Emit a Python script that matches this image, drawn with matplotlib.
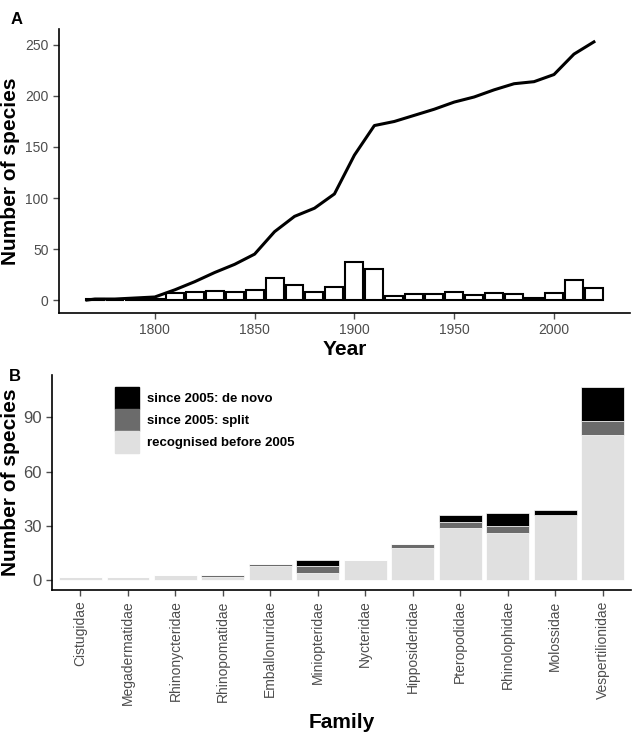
import matplotlib
matplotlib.use("Agg")

import matplotlib.pyplot as plt
from matplotlib.patches import Patch

plt.rcParams['font.family'] = ['Liberation Sans', 'DejaVu Sans']

# Panel A: species described per decade + cumulative total
decades = [1770, 1780, 1790, 1800, 1810, 1820, 1830, 1840, 1850, 1860, 1870, 1880, 1890,
           1900, 1910, 1920, 1930, 1940, 1950, 1960, 1970, 1980, 1990, 2000, 2010, 2020]
described = [1, 0, 1, 1, 7, 8, 9, 8, 10, 22, 15, 8, 13,
             37, 30, 4, 6, 6, 8, 5, 7, 6, 2, 7, 20, 12]
cum_years = [1766, 1770, 1780, 1790, 1800, 1810, 1820, 1830, 1840, 1850, 1860, 1870, 1880, 1890,
             1900, 1910, 1920, 1930, 1940, 1950, 1960, 1970, 1980, 1990, 2000, 2010, 2020]
cum_species = [0, 1, 1, 2, 3, 10, 18, 27, 35, 45, 67, 82, 90, 104,
               142, 171, 175, 181, 187, 194, 199, 206, 212, 214, 221, 241, 253]
yticks_a = [0, 50, 100, 150, 200, 250]
xticks_a = [1800, 1850, 1900, 1950, 2000]

# Panel B: species per family
families = ['Cistugidae', 'Megadermatidae', 'Rhinonycteridae', 'Rhinopomatidae',
            'Emballonuridae', 'Miniopteridae', 'Nycteridae', 'Hipposideridae',
            'Pteropodidae', 'Rhinolophidae', 'Molossidae', 'Vespertilionidae']
before_2005 = [2, 2, 3, 2, 8, 4, 11, 18, 29, 26, 36, 80]
split_2005 = [0, 0, 0, 1, 1, 4, 0, 2, 3, 4, 0, 8]
de_novo_2005 = [0, 0, 0, 0, 0, 3, 0, 0, 4, 7, 3, 19]
yticks_b = [0, 30, 60, 90]

c_light = '#e0e0e0'
c_split = '#6b6b6b'
c_novo = '#000000'
tick_col = '#4d4d4d'
narrow = ['Liberation Sans Narrow', 'Liberation Sans', 'DejaVu Sans']

fig = plt.figure(figsize=(6.33, 7.39), dpi=100)

# ---------- A ----------
ax1 = fig.add_axes([0.0932, 0.5765, 0.9018, 0.3843])
ax1.bar(decades, described, width=9, color='white', edgecolor='black', linewidth=1.5, zorder=2)
ax1.plot(cum_years, cum_species, color='black', linewidth=2.2, zorder=3)
ax1.set_xlim(1752, 2038)
ax1.set_ylim(-12.65, 265.65)
ax1.set_xticks(xticks_a)
ax1.set_yticks(yticks_a)
ax1.set_xlabel('Year', fontsize=15, fontweight='bold', labelpad=2)
ax1.set_ylabel('Number of species', fontsize=15, fontweight='bold', labelpad=4)
ax1.text(-0.085, 1.06, 'A', transform=ax1.transAxes, fontsize=12, fontweight='bold', va='top')

# ---------- B ----------
ax2 = fig.add_axes([0.0821, 0.2016, 0.9149, 0.2910])
x = range(len(families))
bottom2 = [a + b for a, b in zip(before_2005, split_2005)]
ax2.bar(x, before_2005, width=0.9, color=c_light, edgecolor='white', linewidth=0.5)
ax2.bar(x, split_2005, width=0.9, bottom=before_2005, color=c_split, edgecolor='white', linewidth=0.5)
ax2.bar(x, de_novo_2005, width=0.9, bottom=bottom2, color=c_novo, edgecolor='white', linewidth=0.5)
ax2.set_xlim(-0.6, len(families) - 0.4)
ax2.set_ylim(-5.4, 113.4)
ax2.set_yticks(yticks_b)
ax2.set_xticks(list(x))
ax2.set_xticklabels(families, rotation=90, fontsize=10, color=tick_col)
ax2.set_xlabel('Family', fontsize=15, fontweight='bold', family=narrow, labelpad=6)
ax2.set_ylabel('Number of species', fontsize=15, fontweight='bold', labelpad=2)
ax2.text(-0.075, 1.03, 'B', transform=ax2.transAxes, fontsize=12, fontweight='bold', va='top')

handles = [Patch(color=c_novo, label='since 2005: de novo'),
           Patch(color=c_split, label='since 2005: split'),
           Patch(color=c_light, label='recognised before 2005')]
leg = ax2.legend(handles=handles, loc='upper left', bbox_to_anchor=(0.109, 0.944),
                 frameon=False, borderpad=0, borderaxespad=0, labelspacing=0,
                 handlelength=1.8, handleheight=2.2, handletextpad=0.6,
                 prop={'family': narrow, 'weight': 'bold', 'size': 9.5})

for ax in (ax1, ax2):
    ax.spines['top'].set_visible(False)
    ax.spines['right'].set_visible(False)
    ax.spines['left'].set_linewidth(1.2)
    ax.spines['bottom'].set_linewidth(1.2)
    ax.tick_params(length=4, width=1, color=tick_col, labelcolor=tick_col)
ax1.tick_params(labelsize=10)
ax2.tick_params(axis='y', labelsize=12)
for lab in ax2.get_yticklabels():
    lab.set_family(narrow)

fig.savefig('out.png', dpi=100)
